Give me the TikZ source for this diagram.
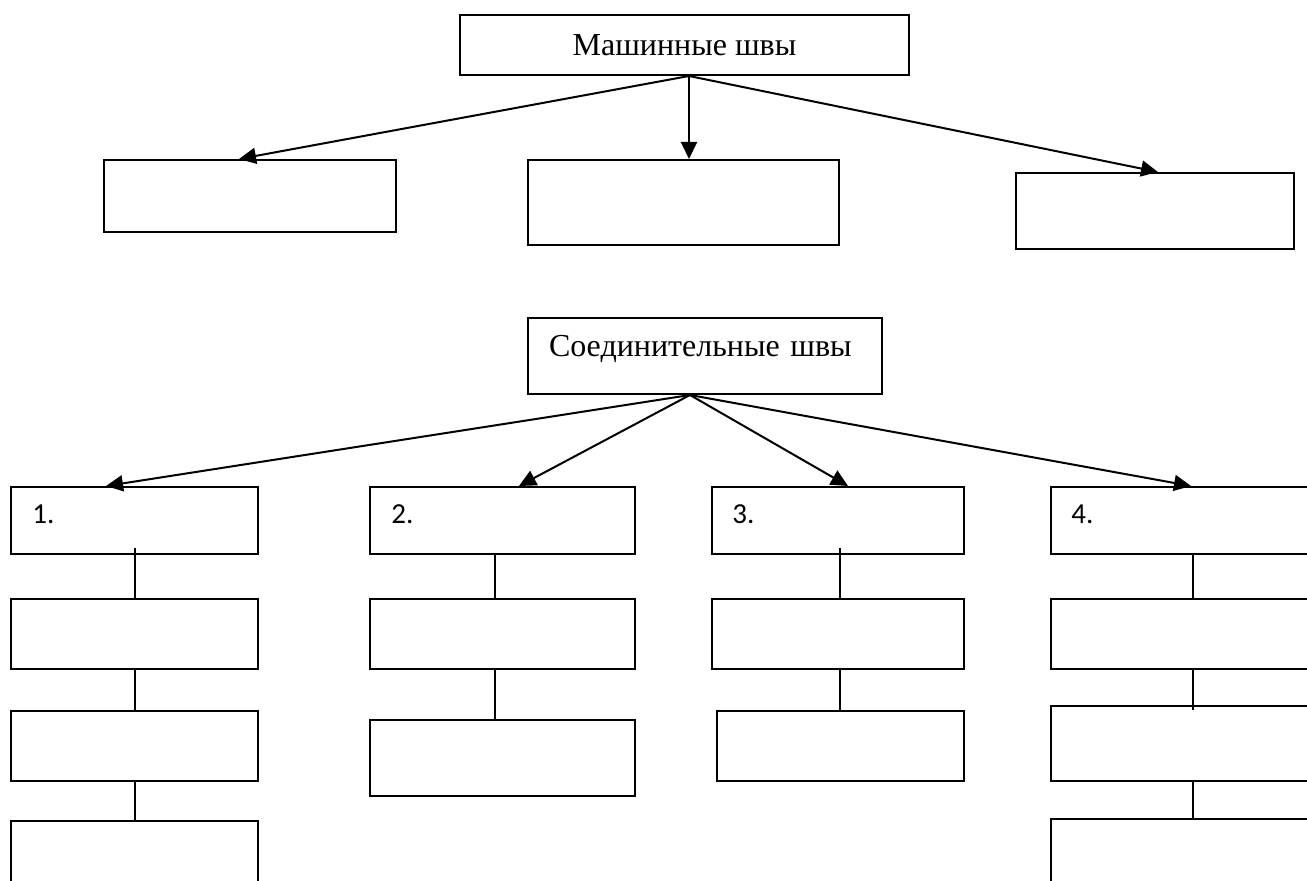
\documentclass[tikz,border=0pt]{standalone}
\usepackage{fontspec}
\setmainfont{Liberation Serif}
\newfontfamily\numfont{Carlito}
\usetikzlibrary{arrows.meta,calc}
\newcommand\hfont{\fontsize{16}{20}\selectfont}
\newcommand\mybox[7][]{\node[box,#1,anchor=north west,minimum width={(#5-#3)*0.5pt},minimum height={(#6-#4)*0.5pt}] (#2) at (#3,#4) {#7};}
\begin{document}
\begin{tikzpicture}[x=0.5pt,y=-0.5pt,
  box/.style={draw, line width=1pt, rectangle, inner sep=0pt},
  arr/.style={line width=1pt, -{Triangle[length=8.5pt,width=8pt]}},
  link/.style={line width=1pt},
  num/.style={anchor=base west, font=\numfont\fontsize{14.5}{17}\selectfont, inner sep=0pt}]
\path[use as bounding box, fill=white] (0,0) rectangle (1307,881);
\clip (0,0) rectangle (1307,881);
% top level
\mybox[font=\hfont]{T}{459}{14}{908}{74}{Машинные швы}
\mybox{A1}{103}{159}{395}{231}{}
\mybox{A2}{527}{159}{838}{244}{}
\mybox{A3}{1015}{172}{1293}{248}{}
\draw[arr] ([xshift=2.25pt]T.south) -- ([xshift=-5.5pt]A1.north);
\draw[arr] ([xshift=2.25pt]T.south) -- ([xshift=2.75pt]A2.north);
\draw[arr] ([xshift=2.25pt]T.south) -- ([xshift=1.5pt]A3.north);
% second part
\mybox[font=\hfont, text width=156pt, inner xsep=10.5pt, align=left, text height=8pt, text depth=7pt]{S}{527}{317}{881}{393}{\mbox{Соединительные швы}}
% column 1
\mybox{c1a}{10}{486}{257}{553}{}
\mybox{c1b}{10}{598}{257}{668}{}
\mybox{c1c}{10}{710}{257}{780}{}
\mybox{c1d}{10}{820}{257}{920}{}
% column 2
\mybox{c2a}{369}{486}{634}{553}{}
\mybox{c2b}{369}{598}{634}{668}{}
\mybox{c2c}{369}{719}{634}{795}{}
% column 3
\mybox{c3a}{711}{486}{963}{553}{}
\mybox{c3b}{711}{598}{963}{668}{}
\mybox{c3c}{716}{710}{963}{780}{}
% column 4
\mybox{c4a}{1050}{486}{1334}{553}{}
\mybox{c4b}{1050}{598}{1334}{668}{}
\mybox{c4c}{1050}{705}{1334}{780}{}
\mybox{c4d}{1050}{818}{1334}{920}{}
% numbers
\node[num] (n1) at ($(c1a.north west)+(22,38)$) {1.};
\node[num] (n2) at ($(c2a.north west)+(22,38)$) {2.};
\node[num] (n3) at ($(c3a.north west)+(21,38)$) {3.};
\node[num] (n4) at ($(c4a.north west)+(21,38)$) {4.};
% arrows from S
\draw[arr] ([xshift=-7.5pt]S.south) -- ([xshift=-14.25pt]c1a.north);
\draw[arr] ([xshift=-7.5pt]S.south) -- ([xshift=8.25pt]c2a.north);
\draw[arr] ([xshift=-7.5pt]S.south) -- ([xshift=5pt]c3a.north);
\draw[arr] ([xshift=-7.5pt]S.south) -- ([xshift=-1pt]c4a.north);
% vertical links
\draw[link] ([yshift=3.5pt]c1a.south) -- (c1b.north);
\draw[link] (c1b.south) -- (c1c.north);
\draw[link] (c1c.south) -- (c1d.north);
\draw[link] ([xshift=-3.75pt]c2a.south) -- ([xshift=-3.75pt]c2b.north);
\draw[link] ([xshift=-3.75pt]c2b.south) -- ([xshift=-3.75pt]c2c.north);
\draw[link] ([xshift=1pt,yshift=3.5pt]c3a.south) -- ([xshift=1pt]c3b.north);
\draw[link] ([xshift=1pt]c3b.south) -- ([xshift=1pt]c3b.south |- c3c.north);
\draw[link] (c4a.south) -- (c4b.north);
\draw[link] (c4b.south) -- ([yshift=-2.5pt]c4c.north);
\draw[link] (c4c.south) -- (c4d.north);
\end{tikzpicture}
\end{document}
